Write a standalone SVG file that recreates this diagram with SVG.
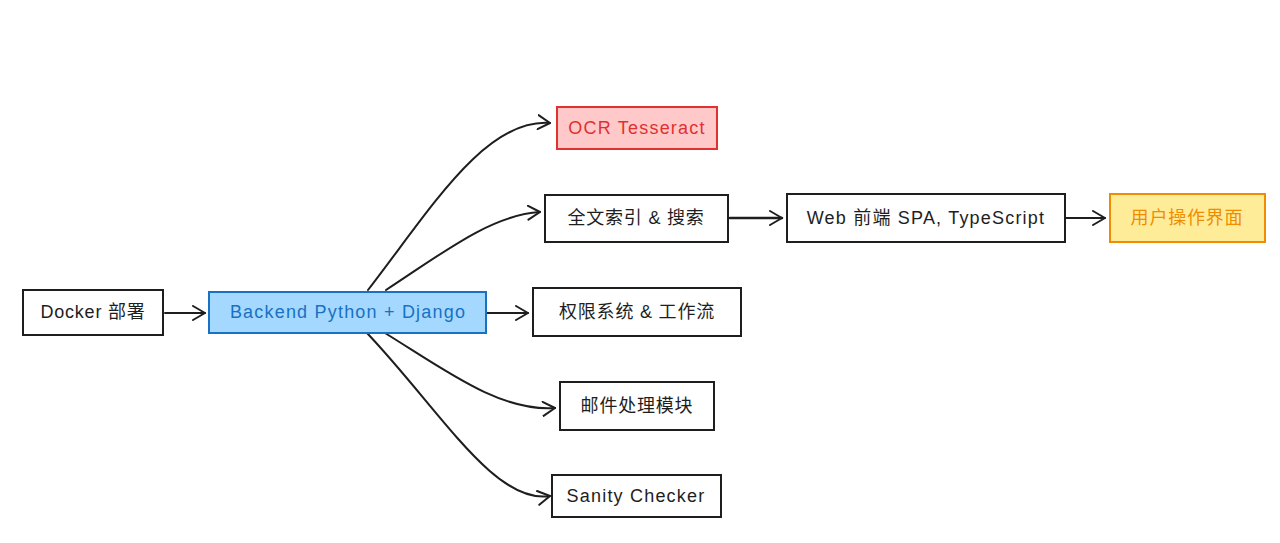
<svg xmlns="http://www.w3.org/2000/svg" width="1280" height="543" viewBox="0 0 1280 543">
<defs>
<marker id="arr" markerWidth="16" markerHeight="16" refX="13" refY="8" orient="auto" markerUnits="userSpaceOnUse">
<path d="M1,1 L13,8 L1,15" fill="none" stroke="#1e1e1e" stroke-width="2" stroke-linecap="round" stroke-linejoin="round"/>
</marker>
</defs>
<style>
.box{fill:#ffffff;stroke:#1e1e1e;stroke-width:2}
.t{font-family:"Liberation Sans","Noto Sans CJK SC",sans-serif;font-size:18px;fill:#1e1e1e;text-anchor:middle;dominant-baseline:central;letter-spacing:0.8px}
.l{letter-spacing:1.2px}
.c{fill:none;stroke:#1e1e1e;stroke-width:2;stroke-linecap:round;marker-end:url(#arr)}
</style>
<rect width="1280" height="543" fill="#ffffff"/>
<g id="connectors">
<path class="c" d="M165,313 L205,313"/>
<path class="c" d="M487,313 L528,313"/>
<path class="c" d="M730,218 L782,218" style="stroke-width:2.5"/>
<path class="c" d="M1066,218 L1105,218"/>
<path class="c" d="M368,290 C430,210 485,118 550,123"/>
<path class="c" d="M386,290 C440,255 490,215 540,212"/>
<path class="c" d="M385,333 C445,370 500,412 555,408"/>
<path class="c" d="M367,333 C440,410 495,505 550,496"/>
</g>
<g id="docker"><rect class="box" x="23" y="290" width="140" height="45"/><text class="t" x="93" y="312">Docker 部署</text></g>
<g id="backend"><rect x="209" y="292" width="277" height="41" fill="#a5d8ff" stroke="#1971c2" stroke-width="2"/><text class="t l" x="348" y="312" style="fill:#1971c2">Backend Python + Django</text></g>
<g id="ocr"><rect x="557" y="107" width="160" height="42" fill="#ffc9c9" stroke="#e03131" stroke-width="2"/><text class="t l" x="637" y="128" style="fill:#e03131">OCR Tesseract</text></g>
<g id="search"><rect class="box" x="545" y="195" width="183" height="47"/><text class="t" x="636" y="218">全文索引 &amp; 搜索</text></g>
<g id="web"><rect class="box" x="787" y="194" width="278" height="48"/><text class="t l" x="926" y="218">Web 前端 SPA, TypeScript</text></g>
<g id="ui"><rect x="1110" y="194" width="155" height="48" fill="#ffec99" stroke="#f08c00" stroke-width="2"/><text class="t" x="1187" y="218" style="fill:#f08c00">用户操作界面</text></g>
<g id="perm"><rect class="box" x="533" y="288" width="208" height="48"/><text class="t" x="637" y="312">权限系统 &amp; 工作流</text></g>
<g id="mail"><rect class="box" x="560" y="382" width="154" height="48"/><text class="t" x="637" y="406">邮件处理模块</text></g>
<g id="sanity"><rect class="box" x="552" y="475" width="169" height="42"/><text class="t l" x="636" y="496">Sanity Checker</text></g>
</svg>
